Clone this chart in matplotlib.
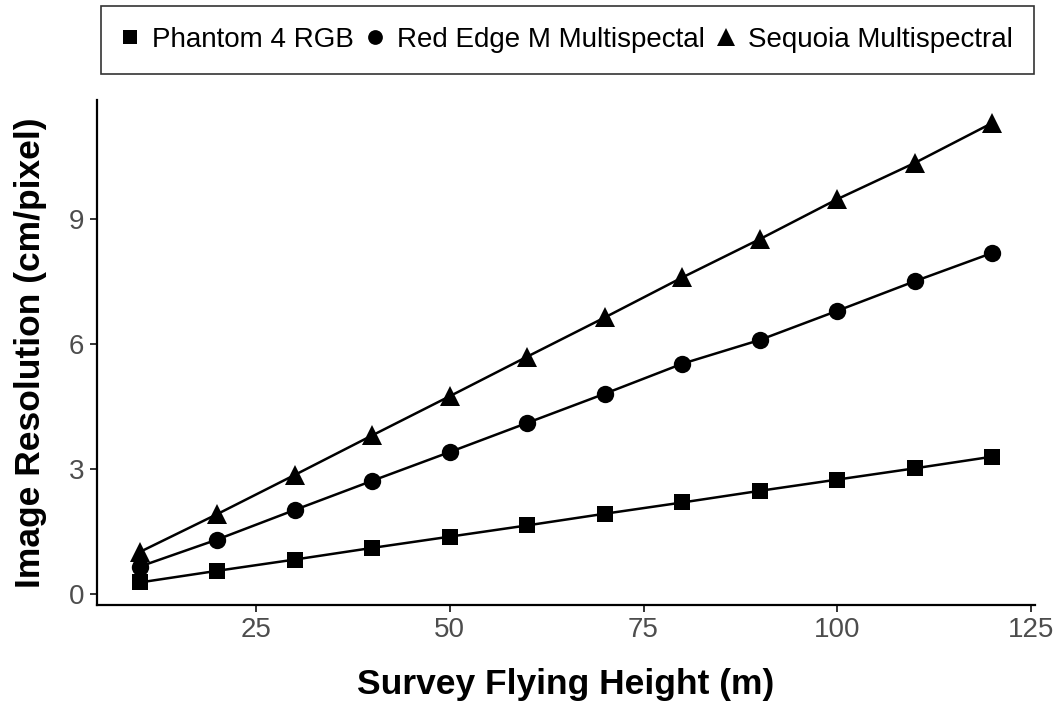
import matplotlib.pyplot as plt
from matplotlib.lines import Line2D

plt.rcParams["font.family"] = ["Liberation Sans", "DejaVu Sans"]

heights = [10, 20, 30, 40, 50, 60, 70, 80, 90, 100, 110, 120]
phantom_rgb = [0.27, 0.55, 0.82, 1.10, 1.37, 1.64, 1.92, 2.19, 2.47, 2.74, 3.01, 3.29]
rededge_m = [0.65, 1.30, 2.01, 2.71, 3.40, 4.10, 4.80, 5.52, 6.09, 6.79, 7.50, 8.18]
sequoia = [1.00, 1.91, 2.85, 3.80, 4.74, 5.69, 6.63, 7.59, 8.51, 9.47, 10.34, 11.30]

series = [
    ("Phantom 4 RGB", phantom_rgb, "s", 12),
    ("Red Edge M Multispectal", rededge_m, "o", 12.5),
    ("Sequoia Multispectral", sequoia, "^", 15),
]

fig = plt.figure(figsize=(10.62, 7.09), dpi=100)
ax = fig.add_axes([0.0913, 0.1467, 0.8833, 0.7123])

for name, vals, mk, ms in series:
    ax.plot(heights, vals, color="black", lw=1.8, marker=mk, ms=ms,
            markeredgewidth=0, label=name)

ax.set_xlim(4.5, 125.5)
ax.set_ylim(-0.27, 11.85)
ax.set_xticks([25, 50, 75, 100, 125])
ax.set_yticks([0, 3, 6, 9])

for side in ["top", "right"]:
    ax.spines[side].set_visible(False)
for side in ["left", "bottom"]:
    ax.spines[side].set_linewidth(1.6)
    ax.spines[side].set_color("black")

ax.tick_params(axis="both", direction="out", length=5, width=1.4,
               color="#333333", labelcolor="#4D4D4D", labelsize=20, pad=4)

ax.set_xlabel("Survey Flying Height (m)", fontsize=25.5, fontweight="bold", labelpad=18)
ax.set_ylabel("Image Resolution (cm/pixel)", fontsize=25.5, fontweight="bold", labelpad=16)

# legend markers drawn a bit smaller than the plotted ones
handles = [Line2D([], [], color="black", marker=mk, ms=ms * 0.85, ls="none", markeredgewidth=0)
           for _, _, mk, ms in series]
leg = fig.legend(handles, [s[0] for s in series], loc="center",
                 bbox_to_anchor=(0.534, 0.9436), ncol=3, fontsize=20,
                 frameon=True, fancybox=False, edgecolor="black",
                 handletextpad=0.5, columnspacing=0.45, handlelength=0.6,
                 borderpad=0.75, borderaxespad=0)
leg.get_frame().set_linewidth(1.2)

fig.savefig("out.png", dpi=100)
